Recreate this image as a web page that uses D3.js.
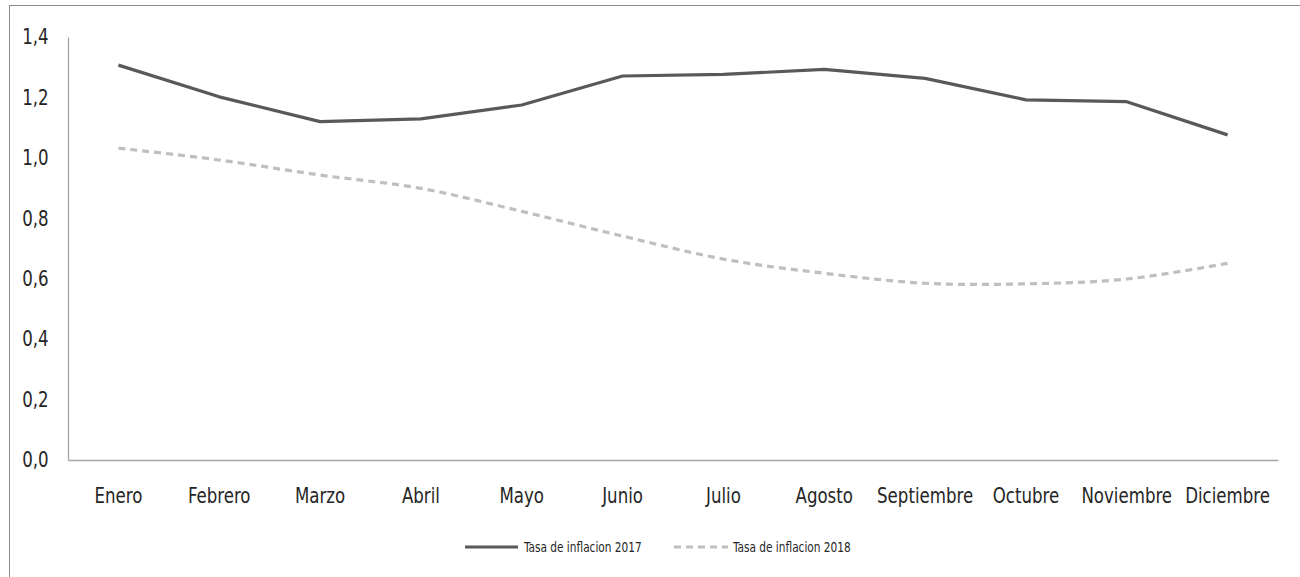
<!DOCTYPE html>
<html><head><meta charset="utf-8">
<script src="https://cdn.jsdelivr.net/npm/d3@7/dist/d3.min.js"></script>
<style>
body{margin:0;background:#fff;}
svg text{font-family:"Liberation Sans Narrow","Arial Narrow","DejaVu Sans Condensed",sans-serif;fill:#262626;}
</style></head>
<body><svg id="c" width="1300" height="577"></svg>
<script>
const months = ["Enero","Febrero","Marzo","Abril","Mayo","Junio","Julio","Agosto","Septiembre","Octubre","Noviembre","Diciembre"];
const inflacion2017 = [1.307,1.202,1.120,1.129,1.175,1.271,1.276,1.293,1.263,1.192,1.186,1.076];
const inflacion2018 = [1.032,0.993,0.943,0.899,0.823,0.741,0.665,0.618,0.585,0.583,0.599,0.651];
const yTicks = [0,0.2,0.4,0.6,0.8,1.0,1.2,1.4];
const seriesNames = ["Tasa de inflacion 2017","Tasa de inflacion 2018"];

const svg = d3.select("#c");
const m = {left:68, right:1278, top:37, bottom:460};
const sx = 0.88;

// outer border
svg.append("rect").attr("x",9.5).attr("y",5.5).attr("width",1300).attr("height",600)
  .attr("fill","none").attr("stroke","#8c8c8c").attr("stroke-width",1);

const x = d3.scaleBand().domain(months).range([m.left,m.right]);
const y = d3.scaleLinear().domain([0,1.4]).range([m.bottom,m.top]);
const fmt = d => d3.format(".1f")(d).replace(".",",");

// y axis
const ya = svg.append("g").attr("transform",`translate(${m.left},0)`)
  .call(d3.axisLeft(y).tickValues(yTicks).tickFormat(fmt).tickSize(0).tickPadding(22));
ya.select(".domain").attr("stroke","#a6a6a6").attr("stroke-width",1.3);
ya.selectAll("text").style("font-size","21px").attr("fill","#262626").attr("dy","0.32em")
  .attr("transform",`scale(${sx},1)`);

// x axis
const xa = svg.append("g").attr("transform",`translate(0,${m.bottom})`)
  .call(d3.axisBottom(x).tickSize(0).tickPadding(28));
xa.select(".domain").attr("stroke","#a6a6a6").attr("stroke-width",1.3);
xa.selectAll("text").style("font-size","21px").attr("fill","#262626")
  .attr("transform",`scale(${sx},1)`);

const cx = d => x(d) + x.bandwidth()/2;

const l17 = d3.line().x((d,i)=>cx(months[i])).y(d=>y(d));
const l18 = d3.line().x((d,i)=>cx(months[i])).y(d=>y(d)).curve(d3.curveCatmullRom.alpha(0));

svg.append("path").datum(inflacion2018).attr("d",l18).attr("fill","none")
  .attr("stroke","#bfbfbf").attr("stroke-width",3.2).attr("stroke-dasharray","7,5");
svg.append("path").datum(inflacion2017).attr("d",l17).attr("fill","none")
  .attr("stroke","#595959").attr("stroke-width",3.2).attr("stroke-linejoin","round");

// legend
const lg = svg.append("g");
const ly = 547;
lg.append("line").attr("x1",465).attr("x2",518).attr("y1",ly).attr("y2",ly)
  .attr("stroke","#595959").attr("stroke-width",3.2);
lg.append("g").attr("transform",`translate(524,${ly}) scale(0.84,1)`)
  .append("text").attr("dy","0.35em").style("font-size","14px").text(seriesNames[0]);
lg.append("line").attr("x1",674).attr("x2",728).attr("y1",ly).attr("y2",ly)
  .attr("stroke","#bfbfbf").attr("stroke-width",3.2).attr("stroke-dasharray","7,5");
lg.append("g").attr("transform",`translate(733,${ly}) scale(0.84,1)`)
  .append("text").attr("dy","0.35em").style("font-size","14px").text(seriesNames[1]);
</script></body></html>
